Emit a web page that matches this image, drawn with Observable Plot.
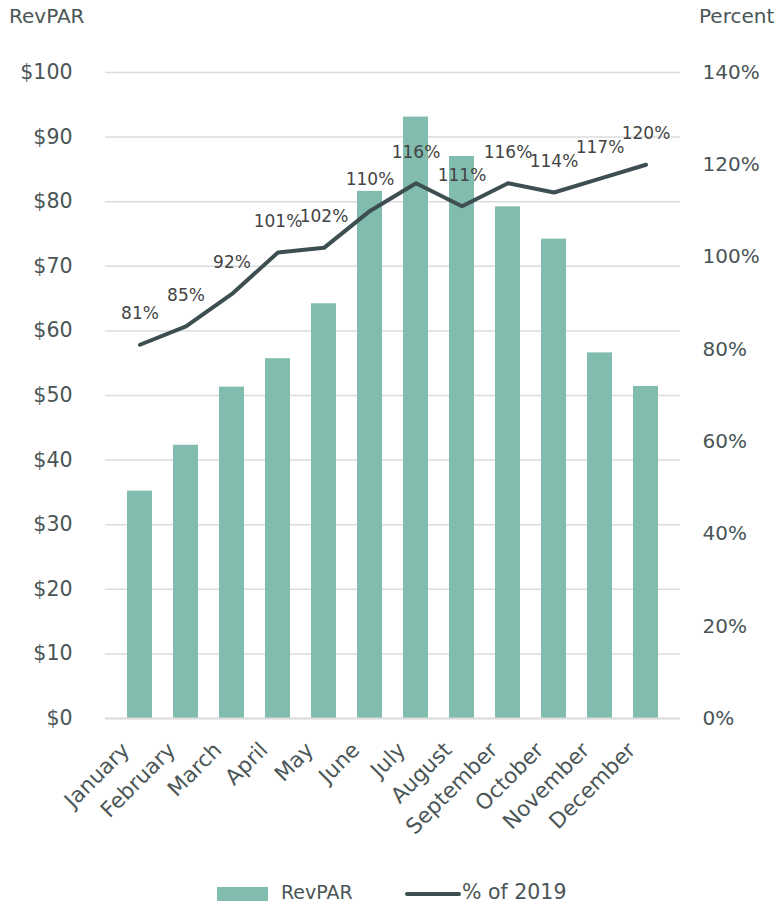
<!DOCTYPE html>
<html><head><meta charset="utf-8">
<script src="https://cdn.jsdelivr.net/npm/d3@7"></script>
<script src="https://cdn.jsdelivr.net/npm/@observablehq/plot@0.6"></script>
<style>
body{margin:0;background:#fff;font-family:"DejaVu Sans",sans-serif;}
#wrap{position:relative;width:783px;height:910px;}
.ttl{position:absolute;top:4px;font-size:20px;color:#4a5556;}
#legend{position:absolute;top:880px;left:0;width:783px;height:30px;font-size:19px;color:#4a5556;}
#legend span{position:absolute;top:1px;}
</style>
</head><body>
<div id="wrap">
<div class="ttl" style="left:9px">RevPAR</div>
<div class="ttl" style="left:699px">Percent</div>
<div id="chart"></div>
<div id="legend">
  <div style="position:absolute;left:217px;top:7px;width:51px;height:14px;background:#82bcae"></div>
  <span style="left:281px">RevPAR</span>
  <div style="position:absolute;left:405px;top:12px;width:56px;height:4px;border-radius:2px;background:#3d4f50"></div>
  <span style="left:462px;font-size:20.5px;top:0px">% of 2019</span>
</div>
</div>
<script>
const months = ["January","February","March","April","May","June","July","August","September","October","November","December"];
const revpar = [35.2, 42.3, 51.3, 55.7, 64.2, 81.6, 93.1, 87.0, 79.2, 74.2, 56.6, 51.4];
const pctOf2019 = [81, 85, 92, 101, 102, 110, 116, 111, 116, 114, 117, 120];
const dollarTicks = [0,10,20,30,40,50,60,70,80,90,100];
const pctTicks = [0,20,40,60,80,100,120,140];

const k = 100/140;
const data = months.map((m,i)=>({month:m, revpar:revpar[i], pct:pctOf2019[i], pctY:pctOf2019[i]*k}));
const ink = "#4a5556";

const chart = Plot.plot({
  width: 783, height: 860,
  marginTop: 72, marginBottom: 142, marginLeft: 105, marginRight: 103,
  style: {fontFamily: "DejaVu Sans, sans-serif", color: ink, background: "#fff"},
  x: {domain: months, padding: 0.45, label: null},
  y: {domain: [0,100], label: null},
  marks: [
    Plot.ruleY(dollarTicks, {stroke: "#dcdcdc", strokeWidth: 1.5}),
    Plot.barY(data, {x: "month", y: "revpar", fill: "#82bcae"}),
    Plot.ruleY([0], {stroke: "#dcdcdc", strokeWidth: 2}),
    Plot.line(data, {x: "month", y: "pctY", stroke: "#3d4f50", strokeWidth: 4, strokeLinejoin: "round", strokeLinecap: "round"}),
    Plot.text(data, {x: "month", y: "pctY", text: d => d.pct + "%", dy: -31, fontSize: 17, fill: "#444"}),
    Plot.axisY(dollarTicks, {anchor: "left", tickSize: 0, tickPadding: 33, tickFormat: d => "$" + d, fontSize: 20.5, fill: ink, label: null}),
    Plot.axisY(pctTicks.map(p => p*k), {anchor: "right", tickSize: 0, tickPadding: 22, textAnchor: "start", tickFormat: d => Math.round(d/k) + "%", fontSize: 20, fill: ink, label: null}),
    Plot.axisX({tickSize: 0, tickRotate: -45, tickPadding: 28, dx: -14, fontSize: 21.5, fill: ink, label: null})
  ]
});
document.getElementById("chart").appendChild(chart);
</script>
</body></html>
